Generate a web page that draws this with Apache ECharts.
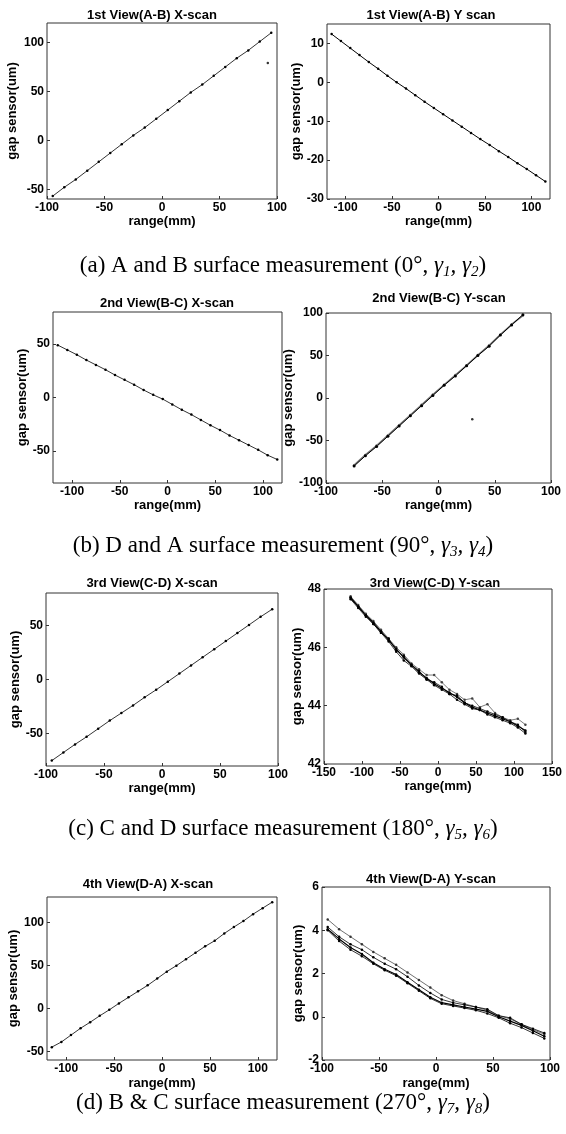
<!DOCTYPE html>
<html>
<head>
<meta charset="utf-8">
<script src="https://cdn.jsdelivr.net/npm/echarts@6/dist/echarts.min.js"></script>
<style>
html, body { margin: 0; padding: 0; background: #fff; }
#main { width: 566px; height: 1134px; }
</style>
</head>
<body>
<div id="main"></div>
<script>
// scan positions (mm)
const xs95 = [-95, -85, -75, -65, -55, -45, -35, -25, -15, -5, 5, 15, 25, 35, 45, 55, 65, 75, 85, 95];
const xs115 = [-115, -105, -95, -85, -75, -65, -55, -45, -35, -25, -15, -5, 5, 15, 25, 35, 45, 55, 65, 75, 85, 95, 105, 115];
const xs75 = [-75, -65, -55, -45, -35, -25, -15, -5, 5, 15, 25, 35, 45, 55, 65, 75];

// 1st view
const ab_x = [-57, -48, -40, -31, -22, -13, -4, 5, 13, 22, 31, 40, 49, 57, 66, 75, 84, 92, 101, 110];
const ab_xOutX = [92];
const ab_xOutY = [79];
const ab_y = [12.4, 10.6, 8.8, 7.0, 5.2, 3.5, 1.7, 0, -1.6, -3.3, -5.0, -6.6, -8.2, -9.8, -11.4, -13.0, -14.6, -16.1, -17.7, -19.2, -20.8, -22.3, -23.9, -25.5];

// 2nd view
const bc_x = [49, 44.5, 40, 35, 30.5, 26, 21, 16.5, 12, 7, 2.5, -1.5, -6.5, -11.5, -16, -21, -26, -30.5, -35.5, -40, -44.5, -49, -54, -58];
const bc_yA = [-80, -68, -57, -45, -33, -21, -9, 3, 15, 26, 38, 50, 61, 74, 86, 98];
const bc_yB = [-79, -67, -56, -44, -32, -20, -8, 4, 15.5, 27, 38.5, 50.5, 62, 74.5, 86.5, 97];
const bc_yOutX = [30];
const bc_yOutY = [-25];

// 3rd view
const cd_x = [-75, -67.5, -60, -53, -45.5, -38, -31, -24, -16.5, -9.5, -2, 5.5, 13, 20.5, 28, 35.5, 43, 50.5, 58, 65];
const cd_y1 = [47.7, 47.4, 47.1, 46.85, 46.55, 46.25, 45.95, 45.65, 45.4, 45.15, 44.95, 44.75, 44.6, 44.45, 44.3, 44.1, 43.95, 43.85, 43.75, 43.65, 43.55, 43.45, 43.3, 43.15];
const cd_y2 = [47.75, 47.45, 47.15, 46.9, 46.6, 46.3, 46.0, 45.75, 45.45, 45.25, 45.05, 45.05, 44.8, 44.55, 44.4, 44.2, 44.25, 43.95, 44.05, 43.75, 43.6, 43.5, 43.55, 43.35];
const cd_y3 = [47.65, 47.35, 47.05, 46.8, 46.5, 46.2, 45.85, 45.55, 45.35, 45.1, 44.9, 44.7, 44.55, 44.4, 44.2, 44.05, 43.9, 43.85, 43.7, 43.6, 43.5, 43.4, 43.25, 43.05];
const cd_y4 = [47.7, 47.4, 47.1, 46.8, 46.5, 46.3, 45.9, 45.7, 45.4, 45.2, 44.9, 44.8, 44.65, 44.4, 44.35, 44.1, 44.0, 43.9, 43.8, 43.7, 43.6, 43.45, 43.35, 43.1];

// 4th view
const da_x = [-45, -39, -31, -23, -16, -8.5, -1.5, 6, 13, 20, 27, 35, 43, 50, 57.5, 65, 72.5, 79, 87.5, 95, 102, 110, 117, 124];
const da_y1 = [4.05, 3.6, 3.2, 2.9, 2.5, 2.2, 1.95, 1.6, 1.25, 0.9, 0.65, 0.55, 0.45, 0.35, 0.25, 0.0, -0.2, -0.4, -0.65, -0.9];
const da_y2 = [4.5, 4.05, 3.7, 3.35, 3.0, 2.7, 2.4, 2.05, 1.7, 1.35, 1.0, 0.75, 0.6, 0.45, 0.3, 0.05, -0.1, -0.35, -0.6, -0.8];
const da_y3 = [4.15, 3.7, 3.35, 3.1, 2.75, 2.45, 2.2, 1.85, 1.45, 1.1, 0.8, 0.65, 0.55, 0.45, 0.35, 0.05, -0.05, -0.35, -0.55, -0.75];
const da_y4 = [4.0, 3.5, 3.1, 2.8, 2.45, 2.15, 1.9, 1.55, 1.2, 0.85, 0.6, 0.5, 0.4, 0.3, 0.15, -0.05, -0.3, -0.5, -0.75, -1.0];

const titles = ['1st View(A-B) X-scan', '1st View(A-B) Y scan', '2nd View(B-C) X-scan', '2nd View(B-C) Y-scan',
  '3rd View(C-D) X-scan', '3rd View(C-D) Y-scan', '4th View(D-A) X-scan', '4th View(D-A) Y-scan'];

const captions = [
  ['(a) A and B surface measurement (0°, ', '1', '2'],
  ['(b) D and A surface measurement (90°, ', '3', '4'],
  ['(c) C and D surface measurement (180°, ', '5', '6'],
  ['(d) B & C surface measurement (270°, ', '7', '8']
];

const panels = [
  { tx: 152, ty: 15, left: 47, top: 23, width: 230, height: 176, x: [-100, 100], xt: [-100, -50, 0, 50, 100], y: [-60, 120], yt: [-50, 0, 50, 100], xg: 14, yg: 28 },
  { tx: 431, ty: 15, left: 327, top: 24, width: 223, height: 175, x: [-120, 120], xt: [-100, -50, 0, 50, 100], y: [-30, 15], yt: [-30, -20, -10, 0, 10], xg: 14, yg: 24 },
  { tx: 167, ty: 303, left: 53, top: 312, width: 229, height: 171, x: [-120, 120], xt: [-100, -50, 0, 50, 100], y: [-80, 80], yt: [-50, 0, 50], xg: 9, yg: 18 },
  { tx: 439, ty: 298, left: 326, top: 313, width: 225, height: 170, x: [-100, 100], xt: [-100, -50, 0, 50, 100], y: [-100, 100], yt: [-100, -50, 0, 50, 100], xg: 9, yg: 22 },
  { tx: 152, ty: 583, left: 46, top: 593, width: 232, height: 173, x: [-100, 100], xt: [-100, -50, 0, 50, 100], y: [-80, 80], yt: [-50, 0, 50], xg: 12, yg: 24 },
  { tx: 435, ty: 583, left: 324, top: 589, width: 228, height: 175, x: [-150, 150], xt: [-150, -100, -50, 0, 50, 100, 150], y: [42, 48], yt: [42, 44, 46, 48], xg: 14, yg: 19 },
  { tx: 148, ty: 884, left: 47, top: 897, width: 230, height: 163, x: [-120, 120], xt: [-100, -50, 0, 50, 100], y: [-60, 130], yt: [-50, 0, 50, 100], xg: 17, yg: 27 },
  { tx: 431, ty: 879, left: 322, top: 887, width: 228, height: 173, x: [-100, 100], xt: [-100, -50, 0, 50, 100], y: [-2, 6], yt: [-2, 0, 2, 4, 6], xg: 17, yg: 17 }
];

const FONT = "'Liberation Sans', Arial, sans-serif";
const SERIF = "'Liberation Serif', 'Times New Roman', serif";
const pair = (xs, ys) => xs.map((v, i) => [v, ys[i]]);

const grid = [], xAxis = [], yAxis = [], title = [];
panels.forEach((p, i) => {
  grid.push({ left: p.left, top: p.top, width: p.width, height: p.height, show: true, borderColor: '#333', borderWidth: 1, containLabel: false });
  xAxis.push({
    type: 'value', gridIndex: i, min: p.x[0], max: p.x[1], position: 'bottom',
    name: 'range(mm)', nameLocation: 'middle', nameGap: p.xg,
    nameTextStyle: { fontFamily: FONT, fontWeight: 'bold', fontSize: 13, color: '#000' },
    axisLine: { show: false, onZero: false }, splitLine: { show: false },
    axisTick: { inside: true, length: 3, customValues: p.xt, lineStyle: { color: '#333' } },
    axisLabel: { customValues: p.xt, margin: 3, fontFamily: FONT, fontWeight: 'bold', fontSize: 12, color: '#000' }
  });
  yAxis.push({
    type: 'value', gridIndex: i, min: p.y[0], max: p.y[1], position: 'left',
    name: 'gap sensor(um)', nameLocation: 'middle', nameGap: p.yg,
    nameTextStyle: { fontFamily: FONT, fontWeight: 'bold', fontSize: 13, color: '#000' },
    axisLine: { show: false, onZero: false }, splitLine: { show: false },
    axisTick: { inside: true, length: 3, customValues: p.yt, lineStyle: { color: '#333' } },
    axisLabel: { customValues: p.yt, margin: 3, fontFamily: FONT, fontWeight: 'bold', fontSize: 12, color: '#000' }
  });
  title.push({
    text: titles[i], left: p.tx, top: p.ty, textAlign: 'center', textVerticalAlign: 'middle', padding: 0,
    textStyle: { fontFamily: FONT, fontWeight: 'bold', fontSize: 13, color: '#000' }
  });
});

const capY = [266, 546, 829, 1103];
captions.forEach((c, i) => {
  title.push({
    text: c[0] + '{g|γ}{s|' + c[1] + '}{g|, γ}{s|' + c[2] + '}{n|)}',
    left: 283, top: capY[i], textAlign: 'center', textVerticalAlign: 'middle', padding: 0,
    textStyle: {
      fontFamily: SERIF, fontSize: 23, fontWeight: 'normal', color: '#000', lineHeight: 27,
      rich: {
        g: { fontFamily: SERIF, fontStyle: 'italic', fontSize: 23, lineHeight: 27, color: '#000' },
        s: { fontFamily: SERIF, fontStyle: 'italic', fontSize: 15, lineHeight: 15, verticalAlign: 'bottom', color: '#000' },
        n: { fontFamily: SERIF, fontSize: 23, lineHeight: 27, color: '#000' }
      }
    }
  });
});

function lineSeries(idx, data, opts) {
  opts = opts || {};
  return {
    type: 'line', xAxisIndex: idx, yAxisIndex: idx, data: data,
    symbol: 'circle', symbolSize: opts.size || 2.5, showSymbol: true, silent: true,
    lineStyle: { width: opts.width || 0.8, color: opts.color || '#000' },
    itemStyle: { color: opts.color || '#000' }
  };
}
function dotSeries(idx, data) {
  return { type: 'scatter', xAxisIndex: idx, yAxisIndex: idx, data: data, symbol: 'circle', symbolSize: 2.5, silent: true, itemStyle: { color: '#000' } };
}

const series = [
  lineSeries(0, pair(xs95, ab_x)),
  dotSeries(0, pair(ab_xOutX, ab_xOutY)),
  lineSeries(1, pair(xs115, ab_y), { width: 1 }),
  lineSeries(2, pair(xs115, bc_x)),
  lineSeries(3, pair(xs75, bc_yB), { width: 1.6, color: '#777' }),
  lineSeries(3, pair(xs75, bc_yA), { width: 1, size: 3 }),
  dotSeries(3, pair(bc_yOutX, bc_yOutY)),
  lineSeries(4, pair(xs95, cd_x)),
  lineSeries(5, pair(xs115, cd_y2), { width: 0.7, color: '#444' }),
  lineSeries(5, pair(xs115, cd_y3), { width: 0.8 }),
  lineSeries(5, pair(xs115, cd_y4), { width: 0.8 }),
  lineSeries(5, pair(xs115, cd_y1), { width: 1.2 }),
  lineSeries(6, pair(xs115, da_x)),
  lineSeries(7, pair(xs95, da_y2), { width: 0.7, color: '#333' }),
  lineSeries(7, pair(xs95, da_y3), { width: 0.8 }),
  lineSeries(7, pair(xs95, da_y4), { width: 0.8 }),
  lineSeries(7, pair(xs95, da_y1), { width: 1.2 })
];

const chart = echarts.init(document.getElementById('main'), null, { renderer: 'canvas' });
chart.setOption({
  animation: false,
  backgroundColor: '#fff',
  title: title,
  grid: grid,
  xAxis: xAxis,
  yAxis: yAxis,
  series: series
});
</script>
</body>
</html>
